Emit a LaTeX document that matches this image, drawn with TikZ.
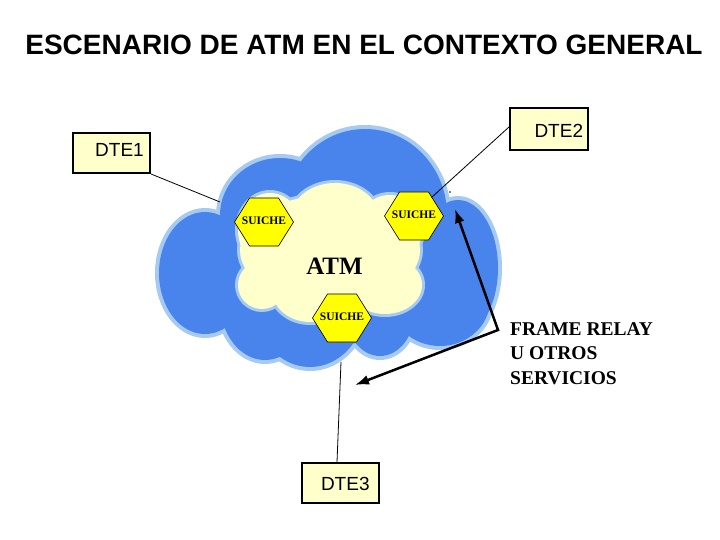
\documentclass[tikz,border=0pt]{standalone}
\usepackage{fontspec}
\setmainfont{Liberation Serif}
\newfontfamily\arialfont{Liberation Sans}
\usetikzlibrary{arrows.meta}
\definecolor{cloudedge}{RGB}{166,202,240}
\definecolor{cloudblue}{RGB}{72,132,236}
\definecolor{cloudcore}{RGB}{255,255,204}
\definecolor{boxfill}{RGB}{255,255,204}
\definecolor{hexfill}{RGB}{255,255,0}
\begin{document}
\begin{tikzpicture}[x=1pt,y=-1pt,
  hexshape/.style={fill=hexfill, draw=black, line width=0.6pt, line join=miter},
  hextext/.style={inner sep=0pt, font=\bfseries\fontsize{11.5}{12}\selectfont},
  dtebox/.style={draw=black, line width=2pt, fill=boxfill, inner sep=0pt},
  dtetext/.style={anchor=base, inner sep=0pt, font=\arialfont\fontsize{19}{22}\selectfont},
  thinline/.style={draw=black, line width=0.8pt},
  thickarrow/.style={draw=black, line width=2.5pt, {Latex[length=14pt,width=10pt]}-{Latex[length=14pt,width=10pt]}},
  frtext/.style={anchor=base west, inner sep=0pt, font=\bfseries\fontsize{19.5}{24.5}\selectfont}
]
\useasboundingbox (0,0) rectangle (720,540);
\fill[white] (0,0) rectangle (720,540);

% title
\node[anchor=base, inner sep=0pt, font=\arialfont\bfseries\fontsize{28}{34}\selectfont] (title) at (364,55) {ESCENARIO DE ATM EN EL CONTEXTO GENERAL};

% outer cloud
\foreach \cx/\cy/\rx/\ry in {205/273/46/61, 280/215/60/57, 365/215/82/86, 458/268/40/68,
  440/300/50/46, 380/310/35/46, 310/305/55/62, 265/302/45/58, 330/265/120/80}
  \filldraw[cloudedge, line width=8pt] (\cx,\cy) ellipse [x radius=\rx, y radius=\ry];
\foreach \cx/\cy/\rx/\ry in {205/273/46/61, 280/215/60/57, 365/215/82/86, 458/268/40/68,
  440/300/50/46, 380/310/35/46, 310/305/55/62, 265/302/45/58, 330/265/120/80}
  \fill[cloudblue] (\cx,\cy) ellipse [x radius=\rx, y radius=\ry];

% inner cloud
\foreach \cx/\cy/\rx/\ry in {330/250/90/55, 335/220/45/37, 270/230/32/37, 390/228/33/33,
  262/285/24/24, 310/290/38/32, 385/285/37/29}
  \filldraw[cloudedge, line width=6pt] (\cx,\cy) ellipse [x radius=\rx, y radius=\ry];
\foreach \cx/\cy/\rx/\ry in {330/250/90/55, 335/220/45/37, 270/230/32/37, 390/228/33/33,
  262/285/24/24, 310/290/38/32, 385/285/37/29}
  \fill[cloudcore] (\cx,\cy) ellipse [x radius=\rx, y radius=\ry];

% ATM label
\node[anchor=base, inner sep=0pt, font=\bfseries\fontsize{25}{30}\selectfont] (atm) at (334.5,274.3) {ATM};

% switches
\coordinate (c1) at (264,222);
\coordinate (c2) at (414,216);
\coordinate (c3) at (342,318);
\foreach \c in {c1,c2,c3}
  \draw[hexshape] (\c) +(-29.5,0) -- +(-14.5,-24) -- +(14.5,-24) -- +(29.5,0) -- +(14.5,24) -- +(-14.5,24) -- cycle;
\node[hextext] (sw1) at ([yshift=1.5pt]c1) {SUICHE};
\node[hextext] (sw2) at ([yshift=1.5pt]c2) {SUICHE};
\node[hextext] (sw3) at ([yshift=1.5pt]c3) {SUICHE};

% DTE boxes
\node[dtebox, minimum width=77pt, minimum height=40pt] (dte1) at (111.5,153) {};
\node[dtetext] (dte1t) at (119.5,156.5) {DTE1};
\node[dtebox, minimum width=78pt, minimum height=42pt] (dte2) at (549,129) {};
\node[dtetext] (dte2t) at (558.8,137.3) {DTE2};
\node[dtebox, minimum width=77pt, minimum height=40pt] (dte3) at (340,483) {};
\node[dtetext] (dte3t) at (345.3,490) {DTE3};

% connectors
\coordinate (p1) at (220,202);
\draw[thinline] (dte1.south east) -- (p1);
\coordinate (p2) at (431.5,197.5);
\draw[thinline] ([yshift=2pt]dte2.west) -- (p2);
\coordinate (p3) at (341,362);
\draw[thinline] ([xshift=-3pt]dte3.north) -- (p3);
\coordinate (dot) at (450,192);
\fill[black] (dot) circle (0.9);

% frame relay arrow
\coordinate (bend) at (498,330);
\coordinate (tipA) at (455,209);
\coordinate (tipB) at (355,385);
\draw[thickarrow] (tipB) -- (bend) -- (tipA);

\node[frtext] (fr1) at (510,335) {FRAME RELAY};
\node[frtext] (fr2) at (510,359.5) {U OTROS};
\node[frtext] (fr3) at (510,384) {SERVICIOS};
\end{tikzpicture}
\end{document}
